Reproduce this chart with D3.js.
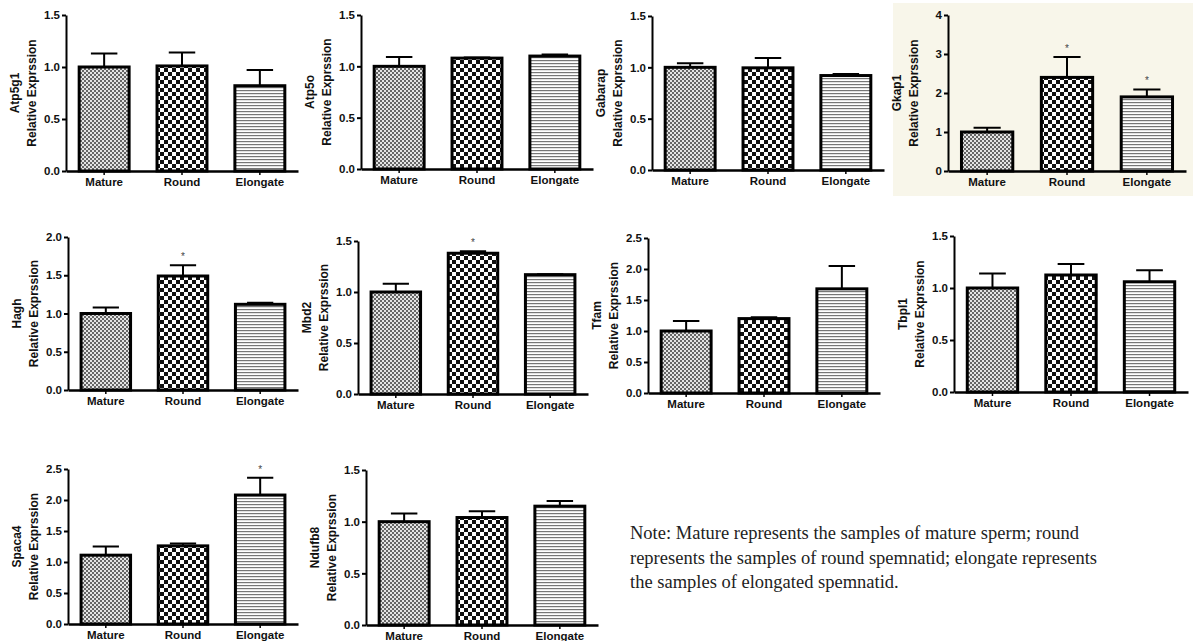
<!DOCTYPE html>
<html lang="en">
<head>
<meta charset="UTF-8">
<title>Relative expression</title>
<style>
  body { margin: 0; background: #fff; }
  svg text { font-family: Arial, "Liberation Sans", sans-serif; }
  .tick text { font-weight: bold; font-size: 11.5px; fill: #111; }
  .note { font-family: "Liberation Serif", "Times New Roman", serif; font-size: 18.5px; fill: #222; }
</style>
</head>
<body>
<svg id="chart" width="1195" height="641"></svg>
<script src="https://cdn.jsdelivr.net/npm/d3@7"></script>
<script>
// data
var genes = ["Atp5g1", "Atp5o", "Gabarap", "Gkap1", "Hagh", "Mbd2", "Tfam", "Tbpl1", "Spaca4", "Ndufb8"]
var groups = ["Mature", "Round", "Elongate"]
var yMax = [1.5, 1.5, 1.5, 4, 2.0, 1.5, 2.5, 1.5, 2.5, 1.5]
var yStep = [0.5, 0.5, 0.5, 1, 0.5, 0.5, 0.5, 0.5, 0.5, 0.5]
var means = [
  [1.0, 1.01, 0.82],
  [1.0, 1.08, 1.10],
  [1.0, 0.995, 0.92],
  [1.0, 2.4, 1.9],
  [1.0, 1.49, 1.12],
  [1.0, 1.38, 1.17],
  [1.0, 1.2, 1.68],
  [1.0, 1.125, 1.06],
  [1.11, 1.26, 2.08],
  [1.0, 1.04, 1.15]
]
var errs = [
  [0.13, 0.13, 0.15],
  [0.09, 0.005, 0.015],
  [0.04, 0.095, 0.015],
  [0.11, 0.52, 0.19],
  [0.08, 0.14, 0.02],
  [0.08, 0.02, 0.003],
  [0.16, 0.02, 0.37],
  [0.14, 0.105, 0.11],
  [0.14, 0.04, 0.28],
  [0.08, 0.06, 0.05]
]
var stars = [
  [0, 0, 0], [0, 0, 0], [0, 0, 0], [0, 1, 1], [0, 1, 0],
  [0, 1, 0], [0, 0, 0], [0, 0, 0], [0, 0, 1], [0, 0, 0]
]
var noteLines = [
  "Note: Mature represents the samples of mature sperm; round",
  "represents the samples of round spemnatid; elongate represents",
  "the samples of elongated spemnatid."
]

// panel placement: axis origin x, plot top, plot bottom, x-axis length
var layout = [
  { x: 66, top: 15, bottom: 171, w: 232 },
  { x: 361, top: 15, bottom: 169, w: 232 },
  { x: 652, top: 16, bottom: 170, w: 232 },
  { x: 948, top: 15, bottom: 171, w: 238 },
  { x: 68, top: 237, bottom: 390, w: 230 },
  { x: 358, top: 241, bottom: 394, w: 230 },
  { x: 648, top: 238, bottom: 393, w: 232 },
  { x: 954, top: 236, bottom: 392, w: 234 },
  { x: 68, top: 469, bottom: 624, w: 230 },
  { x: 366, top: 470, bottom: 625, w: 232 }
]

var svg = d3.select("#chart")
var defs = svg.append("defs")

// fine grey checker (Mature)
var p1 = defs.append("pattern").attr("id", "pMature").attr("patternUnits", "userSpaceOnUse")
  .attr("width", 4).attr("height", 4)
p1.append("rect").attr("width", 4).attr("height", 4).attr("fill", "#e4e4e4")
p1.append("rect").attr("width", 2).attr("height", 2).attr("fill", "#666")
p1.append("rect").attr("x", 2).attr("y", 2).attr("width", 2).attr("height", 2).attr("fill", "#666")

// coarse black checker (Round)
var p2 = defs.append("pattern").attr("id", "pRound").attr("patternUnits", "userSpaceOnUse")
  .attr("width", 8).attr("height", 8)
p2.append("rect").attr("width", 8).attr("height", 8).attr("fill", "#fff")
p2.append("rect").attr("width", 4).attr("height", 4).attr("fill", "#111")
p2.append("rect").attr("x", 4).attr("y", 4).attr("width", 4).attr("height", 4).attr("fill", "#111")

// horizontal stripes (Elongate)
var p3 = defs.append("pattern").attr("id", "pElongate").attr("patternUnits", "userSpaceOnUse")
  .attr("width", 6).attr("height", 3)
p3.append("rect").attr("width", 6).attr("height", 3).attr("fill", "#fff")
p3.append("rect").attr("y", 0).attr("width", 6).attr("height", 1.2).attr("fill", "#777")

var fills = { Mature: "url(#pMature)", Round: "url(#pRound)", Elongate: "url(#pElongate)" }

// beige panel behind Gkap1
svg.append("rect").attr("x", 893).attr("y", 3).attr("width", 300).attr("height", 193)
  .attr("fill", "#f8f6ea")

genes.forEach(function (gene, gi) {
  var L = layout[gi]
  var g = svg.append("g")

  var x = d3.scaleBand().domain(groups).range([L.x, L.x + L.w])
    .paddingInner(0.32).paddingOuter(0.15)
  var y = d3.scaleLinear().domain([0, yMax[gi]]).range([L.bottom, L.top])

  var rows = groups.map(function (k, i) {
    return { key: k, mean: means[gi][i], err: errs[gi][i], star: stars[gi][i] }
  })

  // error bars (upper only)
  g.selectAll(".err").data(rows).enter().append("path")
    .attr("d", function (d) {
      var cx = x(d.key) + x.bandwidth() / 2
      var half = x.bandwidth() / 4
      return "M" + cx + "," + y(d.mean) + "V" + y(d.mean + d.err) +
        "M" + (cx - half) + "," + y(d.mean + d.err) + "H" + (cx + half)
    })
    .attr("stroke", "#000").attr("stroke-width", 2).attr("fill", "none")

  // bars
  g.selectAll(".bar").data(rows).enter().append("rect")
    .attr("x", function (d) { return x(d.key) + 1.5 })
    .attr("y", function (d) { return y(d.mean) })
    .attr("width", x.bandwidth() - 3)
    .attr("height", function (d) { return y(0) - y(d.mean) })
    .attr("fill", function (d) { return fills[d.key] })
    .attr("stroke", "#000").attr("stroke-width", 3)

  // significance marks
  g.selectAll(".star").data(rows.filter(function (d) { return d.star })).enter().append("text")
    .attr("x", function (d) { return x(d.key) + x.bandwidth() / 2 })
    .attr("y", function (d) { return y(d.mean + d.err) - 5 })
    .attr("text-anchor", "middle")
    .style("font-size", "10px").style("fill", "#444")
    .text("*")

  // y axis
  var ticks = d3.range(0, yMax[gi] + yStep[gi] / 2, yStep[gi])
  var yAxis = d3.axisLeft(y).tickValues(ticks).tickSize(4).tickSizeOuter(0).tickPadding(2)
    .tickFormat(yStep[gi] >= 1 ? d3.format("d") : d3.format(".1f"))
  var ya = g.append("g").attr("transform", "translate(" + L.x + ",0)").call(yAxis)
  ya.select(".domain").attr("stroke", "#000").attr("stroke-width", 2)
  ya.selectAll(".tick line").attr("stroke", "#000").attr("stroke-width", 2)

  // x axis
  var xAxis = d3.axisBottom(x).tickSize(4).tickSizeOuter(0).tickPadding(3)
  var xa = g.append("g").attr("transform", "translate(0," + L.bottom + ")").call(xAxis)
  xa.select(".domain").attr("stroke", "#000").attr("stroke-width", 2.5)
  xa.selectAll(".tick line").attr("stroke", "#000").attr("stroke-width", 1.5)

  // y label, two rotated lines
  var cy = (L.top + L.bottom) / 2
  var lbl = [gene, "Relative Exprssion"]
  lbl.forEach(function (t, li) {
    g.append("text")
      .attr("transform", "translate(" + (L.x - 47 + li * 17) + "," + cy + ") rotate(-90)")
      .attr("text-anchor", "middle")
      .style("font-weight", "bold").style("font-size", "12px").style("fill", "#111")
      .text(t)
  })
})

// footnote
svg.append("g").selectAll("text").data(noteLines).enter().append("text")
  .attr("class", "note")
  .attr("x", 630)
  .attr("y", function (d, i) { return 539 + i * 24.5 })
  .text(function (d) { return d })
</script>
</body>
</html>
